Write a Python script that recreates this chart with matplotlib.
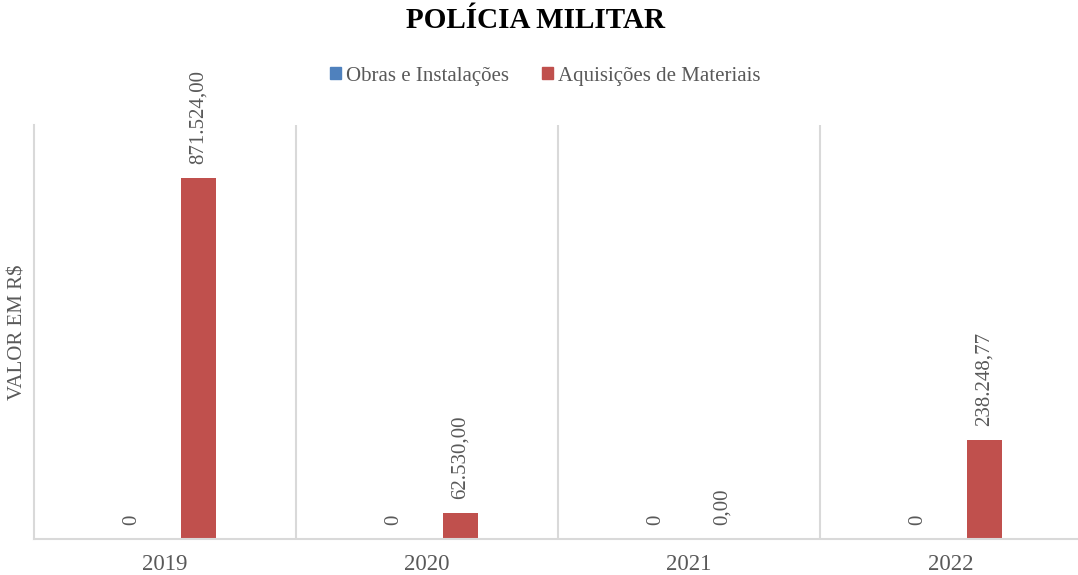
import matplotlib
matplotlib.use("Agg")
import matplotlib.pyplot as plt
from matplotlib.patches import Patch
import numpy as np

categories = ["2019", "2020", "2021", "2022"]
obras = [0, 0, 0, 0]
aquisicoes = [871524.00, 62530.00, 0.00, 238248.77]
obras_labels = ["0", "0", "0", "0"]
aquisicoes_labels = ["871.524,00", "62.530,00", "0,00", "238.248,77"]
series_names = ["Obras e Instalações", "Aquisições de Materiais"]

plt.rcParams['font.family'] = ['Liberation Serif', 'DejaVu Serif']

BLUE = "#4F81BD"
RED = "#C0504D"
GRAY_TXT = "#595959"
GRID = "#D9D9D9"

fig = plt.figure(figsize=(10.78, 5.75), dpi=100)
ax = fig.add_axes([34/1078, 36/575, 1048/1078, 414/575])

x = np.arange(len(categories))
off = 0.128
w = 0.134
ax.bar(x - off, obras, w, color=BLUE)
ax.bar(x + off, aquisicoes, w, color=RED)

for xi, v, lab in zip(x - off, obras, obras_labels):
    ax.annotate(lab, (xi, v), xytext=(0, 10), textcoords="offset points",
                rotation=90, ha="center", va="bottom", fontsize=15, color=GRAY_TXT)
for xi, v, lab in zip(x + off, aquisicoes, aquisicoes_labels):
    ax.annotate(lab, (xi, v), xytext=(0, 10), textcoords="offset points",
                rotation=90, ha="center", va="bottom", fontsize=15, color=GRAY_TXT)

ax.set_xlim(-0.5, 3.5)
ax.set_ylim(0, 1000000)
for g in [0.5, 1.5, 2.5]:
    ax.axvline(g, color=GRID, lw=1.5, zorder=0)

ax.set_yticks([])
ax.set_xticks(x)
ax.set_xticklabels(categories, fontsize=16.5, color=GRAY_TXT)
ax.tick_params(axis="x", length=0, pad=11)

for s in ["top", "right"]:
    ax.spines[s].set_visible(False)
ax.spines["left"].set_color(GRID)
ax.spines["left"].set_linewidth(1.5)
ax.spines["bottom"].set_color(GRID)
ax.spines["bottom"].set_linewidth(1.5)

ax.set_ylabel("VALOR EM R$", fontsize=15, color=GRAY_TXT)
ax.yaxis.label.set_rotation_mode("default")
ax.yaxis.label.set_verticalalignment("center")
ax.yaxis.label.set_horizontalalignment("center")
ax.yaxis.set_label_coords(-16/1048, 0.5)

fig.text(536/1078, 1 - 21/575, "POLÍCIA MILITAR", ha="center", va="center",
         fontsize=21, fontweight="bold", color="black", family="Liberation Serif")

handles = [Patch(color=BLUE), Patch(color=RED)]
fig.legend(handles, series_names, loc="center", bbox_to_anchor=(545/1078, 1 - 76/575),
           ncol=2, frameon=False, fontsize=15, handlelength=0.55, handleheight=0.55,
           handletextpad=0.2, columnspacing=1.6, labelcolor=GRAY_TXT)

fig.savefig("out.png", dpi=100)
